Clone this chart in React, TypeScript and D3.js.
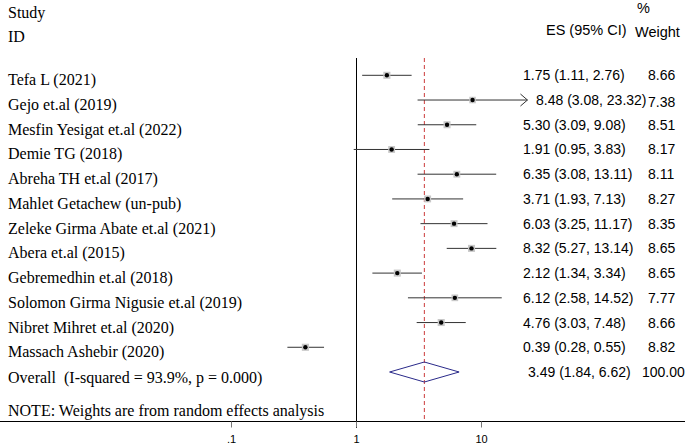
import React from "react";
import * as d3 from "d3";

const studies = [
  "Tefa L (2021)",
  "Gejo et.al (2019)",
  "Mesfin Yesigat et.al (2022)",
  "Demie TG (2018)",
  "Abreha TH et.al (2017)",
  "Mahlet Getachew (un-pub)",
  "Zeleke Girma Abate et.al (2021)",
  "Abera et.al (2015)",
  "Gebremedhin et.al (2018)",
  "Solomon Girma Nigusie et.al (2019)",
  "Nibret Mihret et.al (2020)",
  "Massach Ashebir (2020)",
];
const es = [1.75, 8.48, 5.3, 1.91, 6.35, 3.71, 6.03, 8.32, 2.12, 6.12, 4.76, 0.39];
const lower = [1.11, 3.08, 3.09, 0.95, 3.08, 1.93, 3.25, 5.27, 1.34, 2.58, 3.03, 0.28];
const upper = [2.76, 23.32, 9.08, 3.83, 13.11, 7.13, 11.17, 13.14, 3.34, 14.52, 7.48, 0.55];
const weights = [8.66, 7.38, 8.51, 8.17, 8.11, 8.27, 8.35, 8.65, 8.65, 7.77, 8.66, 8.82];
const overallLabel = "Overall  (I-squared = 93.9%, p = 0.000)";
const overall = { es: 3.49, lo: 1.84, hi: 6.62, w: 100.0 };
const xTicks = [0.1, 1, 10];
const xTickLabels = [".1", "1", "10"];

const W = 685;
const H = 445;

export default function App() {
  const x = d3.scaleLog().domain([0.1, 10]).range([231.5, 481.5]);
  const rows = [...studies, overallLabel];
  const y = d3.scalePoint<string>().domain(rows).range([75.3, 372]);
  const serif = "'Liberation Serif', 'Times New Roman', serif";
  const sans = "'Liberation Sans', Arial, sans-serif";
  const axisY = 421.5;
  const fmt = d3.format(".2f");
  const arrowMax = 20;

  return (
    <svg width={W} height={H} style={{ position: "absolute", left: 0, top: 0, background: "#fff" }}>
      {/* headers */}
      <text x={8} y={18} fontFamily={serif} fontSize={16}>Study</text>
      <text x={8} y={42} fontFamily={serif} fontSize={16}>ID</text>
      <text x={546} y={35} fontFamily={sans} fontSize={14.5}>ES (95% CI)</text>
      <text x={637} y={13} fontFamily={sans} fontSize={14.5}>%</text>
      <text x={635} y={37} fontFamily={sans} fontSize={14.5}>Weight</text>

      {/* null line */}
      <line x1={x(1)} x2={x(1)} y1={58} y2={428} stroke="#000" strokeWidth={1} />
      {/* overall dashed line */}
      <line x1={x(overall.es)} x2={x(overall.es)} y1={58} y2={axisY} stroke="#cc3a3a" strokeWidth={1} strokeDasharray="4,3" />

      {/* axis */}
      <line x1={0} x2={W} y1={axisY} y2={axisY} stroke="#000" strokeWidth={1} />
      {xTicks.map((t, i) => (
        <g key={t}>
          <line x1={x(t)} x2={x(t)} y1={axisY} y2={axisY + 6} stroke="#777" strokeWidth={1} />
          <text x={x(t)} y={443} textAnchor="middle" fontFamily={sans} fontSize={11}>{xTickLabels[i]}</text>
        </g>
      ))}

      {/* studies */}
      {studies.map((s, i) => {
        const cy = y(s)!;
        const hiClipped = upper[i] > arrowMax;
        const x1 = x(lower[i]);
        const x2 = x(upper[i]);
        const side = 2.4 * Math.sqrt(weights[i]);
        return (
          <g key={s}>
            <text x={8} y={cy + 10} fontFamily={serif} fontSize={16}>{s}</text>
            <line x1={x1} x2={x2} y1={cy} y2={cy} stroke="#333" strokeWidth={1} />
            {hiClipped && (
              <path d={`M${x2 - 7},${cy - 6} L${x2},${cy} L${x2 - 7},${cy + 6}`} fill="none" stroke="#333" strokeWidth={1} />
            )}
            <rect x={x(es[i]) - side / 2} y={cy - side / 2} width={side} height={side} fill="#c8c8c8" />
            <circle cx={x(es[i])} cy={cy} r={2.2} fill="#000" />
            <text x={hiClipped ? 536 : 523} y={cy + 5} fontFamily={sans} fontSize={14}>
              {`${fmt(es[i])} (${fmt(lower[i])}, ${fmt(upper[i])})`}
            </text>
            <text x={648} y={cy + 5 + (hiClipped ? 2 : 0)} fontFamily={sans} fontSize={14}>{fmt(weights[i])}</text>
          </g>
        );
      })}

      {/* overall */}
      {(() => {
        const cy = y(overallLabel)!;
        return (
          <g>
            <text x={8} y={cy + 11} fontFamily={serif} fontSize={16} style={{ whiteSpace: "pre" }}>{overallLabel}</text>
            <path
              d={`M${x(overall.lo)},${cy} L${x(overall.es)},${cy - 10} L${x(overall.hi)},${cy} L${x(overall.es)},${cy + 10} Z`}
              fill="none"
              stroke="#2a2a8a"
              strokeWidth={1}
            />
            <text x={528} y={cy + 5} fontFamily={sans} fontSize={14}>
              {`${fmt(overall.es)} (${fmt(overall.lo)}, ${fmt(overall.hi)})`}
            </text>
            <text x={642} y={cy + 5} fontFamily={sans} fontSize={14}>{fmt(overall.w)}</text>
          </g>
        );
      })()}

      <text x={8} y={416} fontFamily={serif} fontSize={16}>NOTE: Weights are from random effects analysis</text>
    </svg>
  );
}
